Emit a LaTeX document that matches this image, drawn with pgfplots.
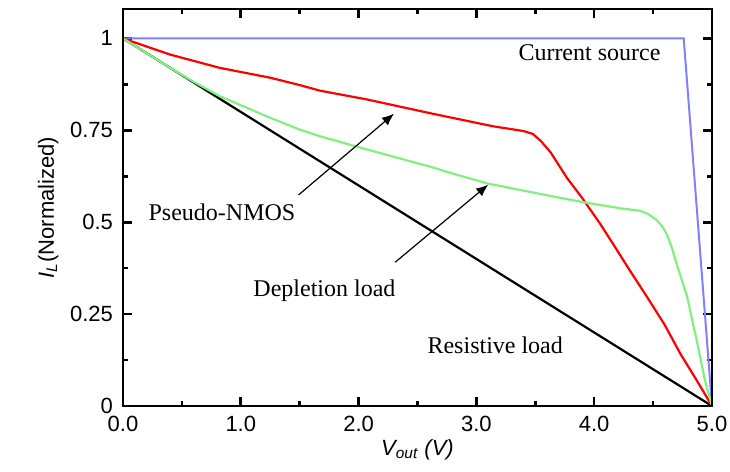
\documentclass[border=0pt]{standalone}
\usepackage{fontspec}
\setmainfont{Liberation Serif}
\setsansfont{Liberation Sans}
\usepackage{pgfplots}
\pgfplotsset{compat=1.18}
\usetikzlibrary{arrows.meta}
\definecolor{csblue}{RGB}{128,128,255}
\definecolor{dlgreen}{RGB}{128,240,128}

\begin{document}
\begin{tikzpicture}
\begin{axis}[scale only axis,width=294.5pt,height=198.5pt,
  xmin=0,xmax=5,ymin=0,ymax=1.08,
  xtick={0,1,2,3,4,5},ytick={0,0.25,0.5,0.75,1},
  minor x tick num=1,minor y tick num=1,
  tick align=inside,
  major tick length=4.5pt,minor tick length=2.6pt,
  every tick/.style={black,line width=1.3pt},
  axis line style={line width=1.3pt},
  xticklabel style={yshift=-1.5pt,/pgf/number format/.cd,fixed,fixed zerofill,precision=1},
  yticklabel style={xshift=-1.5pt},
  /pgf/number format/assume math mode=true,
  tick label style={font=\sffamily\fontsize{11}{13}\selectfont},
  label style={font=\sffamily\fontsize{11}{13}\selectfont},
  xlabel={\itshape V\textsubscript{out} (V)},
  ylabel={\textit{I}\textsubscript{\textit{L}}(Normalized)},
  xlabel style={yshift=3pt},ylabel style={yshift=-1pt},
  clip=false]
\addplot[csblue,line width=1pt] coordinates {(0,1)(4.76,1)(5,0)};
\addplot[black,line width=1.1pt] coordinates {(0,1)(1,0.8)(2,0.6)(3,0.4)(4,0.2)(5,0)};
\addplot[red,line width=1.1pt] coordinates {(0,1)(0.2,0.978)(0.4,0.956)(0.82,0.92)(1.25,0.893)(1.5,0.873)(1.67,0.858)(2.07,0.834)(2.63,0.795)(3.14,0.761)(3.4,0.748)(3.48,0.74)(3.55,0.72)(3.63,0.69)(3.77,0.62)(3.9,0.565)(4.05,0.496)(4.16,0.441)(4.3,0.37)(4.45,0.296)(4.6,0.22)(4.73,0.143)(4.87,0.07)(5,0)};
\addplot[dlgreen,line width=1.1pt] coordinates {(0,1)(0.4,0.92)(0.6,0.882)(0.82,0.843)(1.25,0.784)(1.5,0.752)(1.67,0.734)(2.07,0.698)(2.63,0.649)(2.78,0.634)(3.1,0.605)(3.54,0.577)(3.88,0.556)(4.22,0.538)(4.39,0.531)(4.46,0.522)(4.53,0.506)(4.58,0.488)(4.62,0.465)(4.66,0.43)(4.70,0.387)(4.79,0.296)(4.87,0.179)(4.94,0.07)(5,0)};
\node[font=\fontsize{12}{14}\selectfont] at (axis cs:3.96,0.96) {Current source};
\node[font=\fontsize{12}{14}\selectfont] at (axis cs:0.84,0.526) {Pseudo-NMOS};
\node[font=\fontsize{12}{14}\selectfont] at (axis cs:1.71,0.314) {Depletion load};
\node[font=\fontsize{12}{14}\selectfont] at (axis cs:3.16,0.165) {Resistive load};
\draw[line width=0.6pt,-{Latex[length=6pt,width=5pt]}] (axis cs:1.49,0.574) -- (axis cs:2.30,0.795);
\draw[line width=0.6pt,-{Latex[length=6pt,width=5pt]}] (axis cs:2.31,0.391) -- (axis cs:3.10,0.602);
\draw[line width=1.3pt] (rel axis cs:0,0) rectangle (rel axis cs:1,1);
\end{axis}
\pgfresetboundingbox
\path[use as bounding box] (-61.5pt,-33pt) rectangle (303.5pt,203pt);
\end{tikzpicture}
\end{document}
